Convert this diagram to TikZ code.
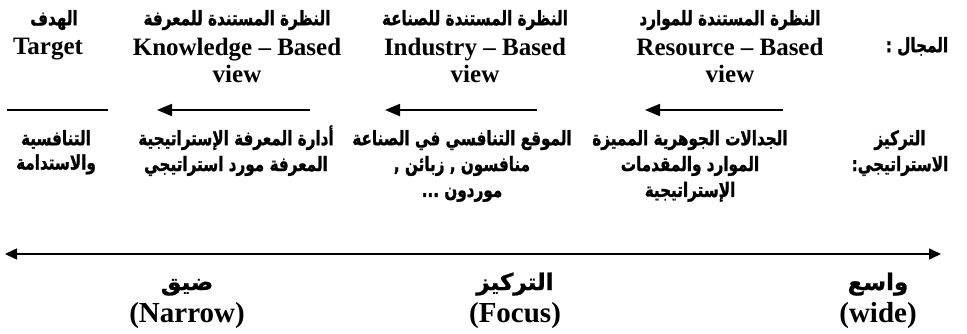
\documentclass[tikz,border=0pt]{standalone}
\usepackage{fontspec}
\setmainfont{Liberation Serif}
\newfontfamily\arabicfont[Script=Arabic,FakeStretch=0.76,FakeBold=1.2]{DejaVu Sans}
\newfontfamily\arabicwide[Script=Arabic,FakeBold=1]{DejaVu Sans}
\TeXXeTstate=1
\usepackage{tikz}
\usetikzlibrary{arrows.meta}
\usetikzlibrary{positioning}
\tikzset{basic label/.style={inner sep=0pt,align=center,anchor=north}}
\tikzset{en label/.style={basic label,font=\bfseries\fontsize{25}{26.5}\selectfont}}
\tikzset{ar label/.style={basic label,font=\arabicfont\bfseries\fontsize{20}{23}\selectfont}}
\tikzset{view arrow/.style={draw,line width=1.8pt,-{Triangle[length=15pt,width=12pt]}}}
\newcommand{\AR}[1]{\beginR\rule{0pt}{20pt}#1\endR}

\begin{document}
\begin{tikzpicture}
  [
    x=1pt,y=-1pt,
    scale label/.style={inner sep=0pt,anchor=base,font=\bfseries\fontsize{29}{30}\selectfont},
    scale ar label/.style={inner sep=0pt,anchor=base,font=\arabicwide\bfseries\fontsize{23}{26}\selectfont},
    scale arrow/.style={draw,line width=1.6pt,{Triangle[length=12pt,width=11pt]}-{Triangle[length=12pt,width=11pt]}},
  ]
    \useasboundingbox (0,0) rectangle (967,333);

    % column heads
    \node [ar label] (Htgt) at (54,5) {\AR{الهدف}};
    \node [en label] (Etgt) at (48,38) {Target};
    \foreach \i/\x/\a/\e in
      {
        know/237/{النظرة المستندة للمعرفة}/{Knowledge -- Based},
        ind/475/{النظرة المستندة للصناعة}/{Industry -- Based},
        res/730/{النظرة المستندة للموارد}/{Resource -- Based}
      }
    {
    \node [ar label] (H\i) at (\x,5) {\AR{\a}};
    \node [en label] (E\i) at (\x,38) {\e\\view};
    }
    \node [ar label] (Hfield) at (917,32) {\AR{المجال :}};

    % arrows
    \coordinate (Ltgt) at (7,110);
    \coordinate (Rtgt) at (108,110);
    \draw [line width=1.6pt] (Ltgt) -- (Rtgt);
    \foreach \i/\s/\t in {know/310/157,ind/537/385,res/783/645}
    {
    \coordinate (S\i) at (\s,110);
    \coordinate (T\i) at (\t,110);
    \draw [view arrow] (S\i) -- (T\i);
    }

    % focus texts
    \node [ar label] (Ftgt) at (56,125) {\AR{التنافسية}\\\AR{والاستدامة}};
    \node [ar label] (Fknow) at (236,125) {\AR{أدارة المعرفة الإستراتيجية}\\\AR{المعرفة مورد استراتيجي}};
    \node [ar label] (Find) at (462,125) {\AR{الموقع التنافسي في الصناعة}\\\AR{منافسون , زبائن ,}\\\AR{موردون ...}};
    \node [ar label] (Fres) at (690,125) {\AR{الجدالات الجوهرية المميزة}\\\AR{الموارد والمقدمات}\\\AR{الإستراتيجية}};
    \node [ar label] (Ffocus) at (900,125) {\AR{التركيز}\\\AR{الاستراتيجي:}};

    % scale
    \coordinate (Snarrow) at (5,254);
    \coordinate (Swide) at (941,254);
    \path [scale arrow] (Snarrow) -- (Swide);
    \foreach \i/\x/\a/\e in {nar/187/ضيق/(Narrow),foc/515/التركيز/(Focus),wid/878/واسع/(wide)}
    {
    \node [scale ar label] (G\i) at (\x,290) {\AR{\a}};
    \node [scale label] (W\i) at (\x,322) {\e};
    }

  \end{tikzpicture}
\end{document}
